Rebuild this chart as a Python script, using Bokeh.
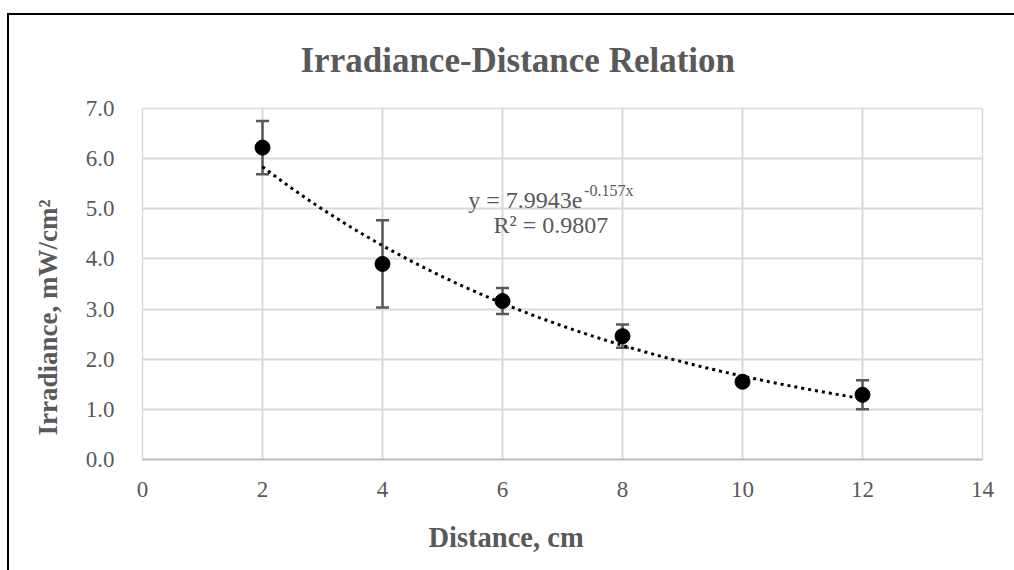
import numpy as np
from bokeh.plotting import figure
from bokeh.models import (ColumnDataSource, Whisker, TeeHead, Label, Title,
                          FixedTicker, NumeralTickFormatter, Range1d, InlineStyleSheet)
from bokeh.embed import file_html
from bokeh.resources import INLINE

# Measured irradiance at each source distance, with standard deviation
distance_cm = [2, 4, 6, 8, 10, 12]
irradiance = [6.22, 3.90, 3.16, 2.46, 1.55, 1.29]
irradiance_sd = [0.53, 0.87, 0.26, 0.23, 0.05, 0.29]

# Exponential trendline y = a * exp(b * x)
fit_a = 7.9943
fit_b = -0.157
fit_r2 = 0.9807

x_ticks = [0, 2, 4, 6, 8, 10, 12, 14]
y_ticks = [0, 1, 2, 3, 4, 5, 6, 7]

GRAY = "#595959"
GRID = "#d9d9d9"
SERIF = "Liberation Serif"

p = figure(
    width=1014, height=570,
    frame_width=840, frame_height=351,
    min_border_left=142, min_border_right=32,
    min_border_top=108, min_border_bottom=111,
    x_range=Range1d(0, 14), y_range=Range1d(0, 7),
    output_backend="svg", toolbar_location=None,
    background_fill_color="white", border_fill_color="white",
)
p.outline_line_color = GRID
p.outline_line_width = 1.5

# Black chart-area border along the top and left edges
p.stylesheets = [InlineStyleSheet(css="""
:host::after {
  content: '';
  position: absolute;
  left: 7px; top: 13px; right: 0; bottom: 0;
  border-left: 2.5px solid black;
  border-top: 2.5px solid black;
  pointer-events: none;
}
""")]

p.xgrid.grid_line_color = GRID
p.ygrid.grid_line_color = GRID
p.xgrid.grid_line_width = 2
p.ygrid.grid_line_width = 2

p.xaxis.ticker = FixedTicker(ticks=x_ticks)
p.yaxis.ticker = FixedTicker(ticks=y_ticks)
p.yaxis.formatter = NumeralTickFormatter(format="0.0")
for ax in (p.xaxis, p.yaxis):
    ax.major_tick_line_color = None
    ax.minor_tick_line_color = None
    ax.major_label_text_font = SERIF
    ax.major_label_text_font_size = "23px"
    ax.major_label_text_color = GRAY
p.xaxis.axis_line_color = "#bfbfbf"
p.xaxis.axis_line_width = 2
p.yaxis.axis_line_color = None
p.xaxis.major_label_standoff = 16
p.yaxis.major_label_standoff = 22

src = ColumnDataSource(dict(
    x=distance_cm, y=irradiance,
    upper=[v + s for v, s in zip(irradiance, irradiance_sd)],
    lower=[v - s for v, s in zip(irradiance, irradiance_sd)],
))

# Trendline over the measured span
xf = np.linspace(min(distance_cm), max(distance_cm), 200)
p.line(xf, fit_a * np.exp(fit_b * xf), line_color="black", line_width=3,
       line_dash="3 4")

# Error bars
p.add_layout(Whisker(
    source=src, base="x", upper="upper", lower="lower",
    line_color=GRAY, line_width=2.5,
    upper_head=TeeHead(size=13, line_color=GRAY, line_width=2.5),
    lower_head=TeeHead(size=13, line_color=GRAY, line_width=2.5),
))

p.scatter("x", "y", source=src, size=15, fill_color="black", line_color="black")

# Chart title and axis titles
p.add_layout(Title(text="Irradiance-Distance Relation", align="left", offset=158,
                   standoff=57, text_font=SERIF, text_font_size="35px",
                   text_font_style="bold", text_color=GRAY), "above")
p.add_layout(Title(text="Distance, cm", align="left", offset=286, standoff=41,
                   text_font=SERIF, text_font_size="28.5px",
                   text_font_style="bold", text_color=GRAY), "below")
p.add_layout(Title(text="Irradiance,  mW/cm²", align="left", offset=24, standoff=40,
                   text_font=SERIF, text_font_size="27px",
                   text_font_style="bold", text_color=GRAY), "left")

# Trendline equation
p.add_layout(Label(x=5.43, y=5.18, text=f"y = {fit_a:.4f}e",
                   text_font=SERIF, text_font_size="24px", text_color=GRAY,
                   text_align="left", text_baseline="alphabetic"))
p.add_layout(Label(x=7.36, y=5.37, text=f"{fit_b:.3f}x",
                   text_font=SERIF, text_font_size="16px", text_color=GRAY,
                   text_align="left", text_baseline="alphabetic"))
p.add_layout(Label(x=5.85, y=4.67, text=f"R² = {fit_r2:.4f}",
                   text_font=SERIF, text_font_size="24px", text_color=GRAY,
                   text_align="left", text_baseline="alphabetic"))

open("out.html", "w").write(file_html(p, INLINE))
